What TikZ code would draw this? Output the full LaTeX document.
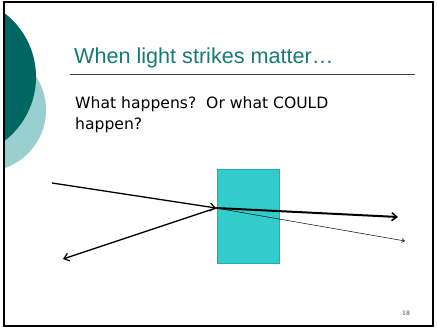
\documentclass[tikz,border=0pt]{standalone}
\usepackage{fontspec}
\setmainfont{DejaVu Sans}
\newfontfamily\titlefont{Liberation Sans}
\usetikzlibrary{arrows.meta}
\definecolor{darkteal}{RGB}{0,102,97}
\definecolor{lightteal}{RGB}{154,207,207}
\definecolor{titleteal}{RGB}{23,122,117}
\definecolor{slab}{RGB}{51,204,204}
\definecolor{slabedge}{RGB}{40,170,170}
\tikzset{
  ray/.style={line width=1.3pt, -{Straight Barb[length=5pt,width=8pt,line width=1.2pt]}},
  thickray/.style={line width=2pt, -{Straight Barb[length=5pt,width=8pt,line width=1.6pt]}},
  thinray/.style={line width=0.5pt, -{Straight Barb[length=3pt,width=4pt,line width=0.5pt]}},
}
\begin{document}
\begin{tikzpicture}[x=1pt,y=-1pt]
\useasboundingbox (0,0) rectangle (437,328);
\fill[white] (0,0) rectangle (437,328);
\begin{scope}
\clip (4,2) rectangle (433,326);
\fill[lightteal] (-15.5,110) circle (61.5);
\fill[darkteal] (-44.5,77) circle (80.5);
\end{scope}
\draw[line width=1.5pt] (4,2) rectangle (433,326);
\node[anchor=base west, inner sep=0, text=titleteal, font=\titlefont\fontsize{21.6}{25}\selectfont] (title) at (74,64) {When light strikes matter…};
\draw[line width=0.8pt, black!75] (70,74) -- (415,74);
\node[anchor=base west, inner sep=0, font=\fontsize{15.6}{20}\selectfont] (body) at (75,109) {What happens?\ \ Or what COULD};
\node[anchor=base west, inner sep=0, font=\fontsize{15.6}{20}\selectfont] (body2) at (75,130) {happen?};
\node[draw=slabedge, fill=slab, line width=0.8pt, minimum width=62pt, minimum height=94pt, inner sep=0, anchor=north west] (block) at (216.7,169) {};
\coordinate (src) at (52,183);
\coordinate (hit) at (216,208);
\coordinate (refl) at (63,259);
\coordinate (trans) at (398,217);
\coordinate (trans2) at (405,241);
\draw[ray] (src) -- (hit);
\draw[ray] (hit) -- (refl);
\draw[thinray] (hit) -- (trans2);
\draw[thickray] (hit) -- (trans);
\node[font=\fontsize{6}{7}\selectfont, text=black!70] (page) at (406,313) {18};
\end{tikzpicture}
\end{document}
